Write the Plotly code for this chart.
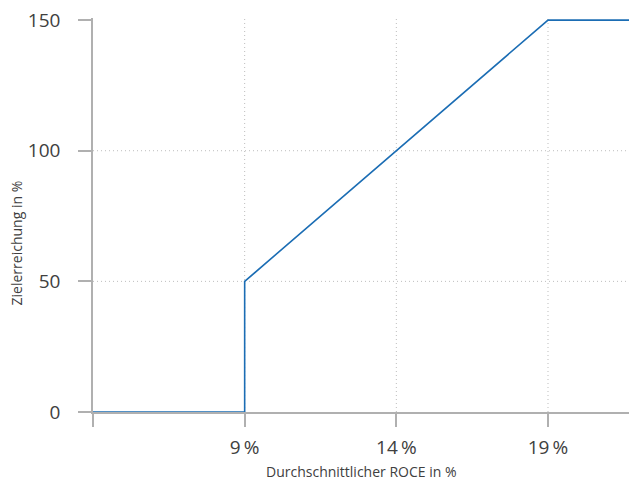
import plotly.graph_objects as go

roce = [4, 9, 9, 19, 21.67]
zielerreichung = [0, 0, 50, 150, 150]
x_ticks = [4, 9, 14, 19]
x_labels = ["", "9\u2009%", "14\u2009%", "19\u2009%"]
y_ticks = [0, 50, 100, 150]
y_labels = ["0", "50", "100", "150"]
x_grid = [9, 14, 19]
y_grid = [50, 100]

fig = go.Figure()
fig.add_trace(go.Scatter(x=roce, y=zielerreichung, mode="lines",
                         line=dict(color="#1b6db4", width=1.6),
                         hoverinfo="skip"))

grid_style = dict(color="#bdbdbd", width=1, dash="1px,3px")
for gx in x_grid:
    fig.add_shape(type="line", xref="x", yref="paper", x0=gx, x1=gx, y0=0, y1=1,
                  line=grid_style, layer="below")
for gy in y_grid:
    fig.add_shape(type="line", xref="paper", yref="y", x0=0, x1=1, y0=gy, y1=gy,
                  line=grid_style, layer="below")

axis_color = "#b0b0b0"
text_color = "#404040"
fig.update_xaxes(range=[4, 21.67], tickvals=x_ticks, ticktext=x_labels,
                 showgrid=False, zeroline=False, showline=True, linecolor=axis_color,
                 linewidth=1.5, ticks="outside", ticklen=13, tickcolor=axis_color,
                 tickwidth=1.5, tickfont=dict(size=19, color=text_color),
                 ticklabelstandoff=4, layer="below traces", automargin=False)
fig.update_yaxes(range=[0, 150.8], tickvals=y_ticks, ticktext=y_labels,
                 showgrid=False, zeroline=False, showline=True, linecolor=axis_color,
                 linewidth=1.5, ticks="outside", ticklen=13, tickcolor=axis_color,
                 tickwidth=1.5, tickfont=dict(size=19, color=text_color),
                 ticklabelstandoff=14, ticklabelposition="outside", layer="below traces",
                 automargin=False)

fig.add_annotation(text="Durchschnittlicher ROCE in %", xref="paper", yref="paper",
                   x=0.5, y=-0.152, showarrow=False,
                   font=dict(size=14, color=text_color), xanchor="center", yanchor="middle")
fig.add_annotation(text="Zielerreichung in %", xref="paper", yref="paper",
                   x=-0.142, y=0.43, textangle=-90, showarrow=False,
                   font=dict(size=14, color=text_color), xanchor="center", yanchor="middle")

fig.update_layout(width=629, height=482, margin=dict(l=93, r=0, t=18, b=70),
                  plot_bgcolor="white", paper_bgcolor="white", showlegend=False,
                  font=dict(family="Open Sans, Noto Sans, sans-serif", color=text_color))

fig.write_html("out.html", config={"displayModeBar": False},
               post_script="document.body.style.margin='0';")
